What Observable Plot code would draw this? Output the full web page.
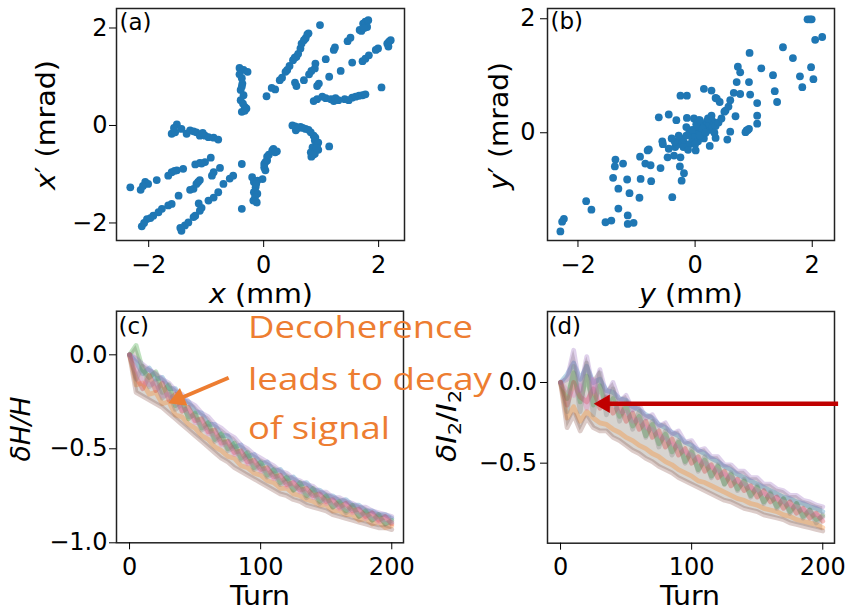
<!DOCTYPE html>
<html><head><meta charset="utf-8">
<script src="https://cdn.jsdelivr.net/npm/d3@7"></script>
<script src="https://cdn.jsdelivr.net/npm/@observablehq/plot@0.6"></script>
<style>
html,body{margin:0;padding:0;background:#fff;}
#fig{position:relative;width:846px;height:613px;overflow:hidden;background:#fff;}
.panel{position:absolute;background:#fff;}
.panel svg{display:block;overflow:visible;}
#overlay{position:absolute;left:0;top:0;pointer-events:none;}
</style>
</head><body>
<div id="fig">
  <div class="panel" id="pa" style="left:0;top:0;width:420px;height:310px"></div>
  <div class="panel" id="pb" style="left:420px;top:0;width:426px;height:310px"></div>
  <div class="panel" id="pc" style="left:0;top:308px;width:420px;height:305px"></div>
  <div class="panel" id="pd" style="left:420px;top:308px;width:426px;height:305px"></div>
</div>
<script>
// ---------- data: panel (a) x, x' ----------
const ax = [0.05,0.14,0.20,0.28,0.32,0.38,0.41,0.45,0.51,0.54,0.57,0.60,0.64,0.66,0.70,0.73,0.76,0.78,
  0.98,
  0.545,0.57,0.70,0.79,0.83,0.90,0.89,1.08,1.22,1.24,1.46,1.51,1.67,1.70,1.73,1.77,1.82,1.80,1.75,
  0.93,0.96,1.14,1.34,1.54,1.72,1.77,1.83,1.95,1.99,2.15,2.18,2.21,2.17,
  2.05,
  0.87,0.93,1.02,1.08,1.17,1.22,1.25,1.41,1.54,1.60,1.66,1.72,1.77,1.30,1.48,
  -0.42,-0.35,-0.28,-0.38,-0.37,-0.40,-0.35,-0.40,-0.33,-0.38,-0.30,-0.42,-0.36,-0.33,-0.38,
  -1.51,-1.60,-1.54,-1.43,-1.34,-1.28,-1.17,-1.11,-1.02,-0.96,-0.87,-0.79,-1.56,-1.22,-1.06,
  -2.32,-2.14,-2.06,-2.01,-1.86,-1.66,-1.60,-1.51,-1.40,-1.19,-1.11,-1.02,-0.92,-2.10,-1.55,-1.08,
  -2.12,-2.03,-1.92,-1.83,-1.77,-1.66,-1.60,-1.48,-1.22,-1.17,-1.11,-0.90,-0.87,-0.76,-2.08,-1.97,-1.28,-1.14,
  -1.43,-1.37,-1.31,-1.22,-1.19,-1.11,-1.08,-0.96,-0.87,-0.79,-0.70,-0.59,-0.53,-0.38,-1.45,-1.13,
  -0.38,
  -0.20,-0.17,-0.11,-0.14,-0.17,-0.11,-0.18,-0.12,-0.02,-0.15,-0.13,
  0.03,0.01,0.06,0.06,0.09,0.17,0.23,0.03,0.01,0.15,0.20,
  0.50,0.56,0.64,0.73,0.82,0.87,0.89,0.93,0.85,0.82,0.89,0.83,1.14,0.55,0.60,0.68,0.78,0.90,0.95,0.95,0.86,0.92];
const axp = [0.60,0.77,0.74,0.93,0.98,1.10,1.14,1.22,1.34,1.39,1.41,1.47,1.58,1.68,1.75,1.79,1.87,1.89,
  2.06,
  0.88,0.81,0.93,1.05,1.12,1.27,1.17,1.36,1.55,1.60,1.73,1.80,1.96,1.94,2.09,2.13,2.16,2.02,2.00,
  0.81,0.86,1.00,1.12,1.29,1.32,1.37,1.44,1.55,1.58,1.68,1.72,1.75,1.62,
  0.78,
  0.50,0.54,0.59,0.56,0.54,0.50,0.56,0.54,0.57,0.59,0.61,0.62,0.64,0.52,0.52,
  1.18,1.14,1.10,0.97,0.86,0.73,0.62,0.52,0.38,0.28,0.35,1.05,0.45,0.30,0.80,
  0.02,-0.17,-0.14,-0.07,-0.17,-0.10,-0.14,-0.21,-0.21,-0.24,-0.25,-0.29,-0.05,-0.12,-0.15,
  -1.27,-1.32,-1.16,-1.20,-1.12,-1.03,-0.96,-0.92,-0.89,-0.80,-0.77,-0.75,-0.66,-1.24,-0.93,-0.78,
  -2.07,-1.92,-1.85,-1.78,-1.71,-1.64,-1.61,-1.44,-1.30,-1.20,-1.12,-1.03,-0.96,-0.87,-2.00,-1.90,-1.32,-1.16,
  -2.16,-2.05,-1.99,-1.88,-1.85,-1.75,-1.69,-1.54,-1.48,-1.37,-1.20,-1.09,-1.03,-0.79,-2.10,-1.60,
  -1.71,
  -1.06,-1.16,-1.13,-1.27,-1.37,-1.40,-1.54,-1.58,-1.10,-1.47,-1.20,
  -0.92,-0.79,-0.72,-0.64,-0.60,-0.48,-0.53,-0.75,-0.86,-0.51,-0.55,
  0.00,-0.10,-0.03,-0.07,-0.14,-0.21,-0.31,-0.41,-0.45,-0.55,-0.58,-0.64,-0.43,-0.02,-0.05,-0.05,-0.09,-0.25,-0.35,-0.50,-0.60,-0.46];

// ---------- data: panel (b) y, y' ----------
const by = [1.92,1.96,1.99,2.05,2.17,1.50,0.93,1.67,0.73,0.77,1.13,1.98,1.33,1.79,2.02,0.71,0.92,1.83,1.36,0.15,0.28,-0.25,-0.14,0.66,0.77,0.94,0.35,0.42,1.40,1.06,0.60,0.52,0.69,1.06,1.06,0.88,0.92,0.60,0.55,0.35,0.25,-0.62,-0.45,-0.32,-0.14,-0.02,0.06,0.37,0.57,0.50,0.86,0.90,0.01,
  -0.56,-0.55,-0.45,-0.47,-0.34,-0.22,-0.79,-0.94,-0.85,-0.76,-0.59,-1.36,-1.37,-1.23,-1.40,-1.16,-0.93,-0.75,-1.31,-1.12,-0.95,-0.39,-0.26,-0.19,-0.23,-1.86,-1.77,-1.53,-1.43,-1.15,-1.15,-1.05,-2.24,-2.27,-2.30,-1.31,-0.81,-0.36,-0.27,-0.25,
  -0.25,-0.20,-0.15,-0.10,-0.10,-0.05,0.00,0.00,0.05,0.05,0.10,0.10,0.15,0.15,0.20,0.20,0.25,0.25,0.30,0.30,0.35,0.40,-0.30,-0.35,-0.20,-0.12,0.00,0.08,0.12,0.18,-0.05,0.02,0.22,0.28,-0.28,-0.40,0.45,0.33,0.08,-0.15];
const byp = [1.99,1.99,1.99,1.63,1.68,1.50,1.40,1.31,1.16,1.06,1.13,1.15,1.01,0.99,0.94,0.89,0.89,0.80,0.73,0.77,0.74,0.65,0.65,0.70,0.68,0.67,0.61,0.54,0.54,0.52,0.57,0.39,0.29,0.30,0.16,0.04,0.07,0.02,-0.12,-0.09,-0.23,0.27,0.32,0.22,0.26,0.25,0.22,0.60,0.46,0.37,0.01,0.05,-0.31,
  -0.15,-0.20,-0.28,-0.43,-0.25,-0.13,-0.29,-0.42,-0.54,-0.57,-0.62,-0.47,-0.59,-0.54,-0.79,-0.82,-0.81,-0.85,-0.98,-1.06,-1.14,-1.13,-0.59,-0.71,-0.84,-1.20,-1.35,-1.57,-1.54,-1.45,-1.60,-1.58,-1.51,-1.56,-1.73,-1.33,-0.31,-0.40,-0.19,-0.43,
  -0.10,-0.15,-0.05,-0.20,0.00,-0.10,-0.05,0.05,-0.15,0.10,0.00,0.15,0.05,-0.10,0.10,0.20,0.05,0.15,0.20,0.10,0.12,0.18,-0.20,-0.15,-0.25,-0.30,-0.20,-0.05,0.08,0.00,0.05,0.15,0.25,0.30,-0.05,-0.10,0.25,0.00,0.22,0.10];

// ---------- data: panels (c) and (d), sampled every 5 turns ----------
const turns = [0,5,10,15,20,25,30,35,40,45,50,55,60,65,70,75,80,85,90,95,100,105,110,115,120,125,130,135,140,145,150,155,160,165,170,175,180,185,190,195,200];
const dH1 = [0,-0.04,-0.10,-0.07,-0.13,-0.12,-0.18,-0.18,-0.24,-0.25,-0.30,-0.31,-0.37,-0.37,-0.43,-0.43,-0.49,-0.48,-0.54,-0.53,-0.58,-0.57,-0.62,-0.61,-0.66,-0.65,-0.69,-0.68,-0.72,-0.72,-0.75,-0.75,-0.78,-0.77,-0.80,-0.80,-0.83,-0.83,-0.85,-0.85,-0.87];
const dH2 = [0,-0.16,-0.15,-0.21,-0.20,-0.26,-0.25,-0.32,-0.33,-0.37,-0.39,-0.43,-0.45,-0.49,-0.51,-0.54,-0.55,-0.59,-0.60,-0.63,-0.64,-0.67,-0.68,-0.71,-0.71,-0.74,-0.75,-0.77,-0.78,-0.80,-0.80,-0.83,-0.83,-0.85,-0.85,-0.88,-0.87,-0.90,-0.89,-0.92,-0.91];
const dH3 = [0,0.05,-0.08,-0.12,-0.09,-0.20,-0.16,-0.27,-0.24,-0.34,-0.31,-0.39,-0.36,-0.45,-0.42,-0.50,-0.47,-0.55,-0.52,-0.60,-0.57,-0.64,-0.61,-0.68,-0.65,-0.72,-0.68,-0.75,-0.71,-0.78,-0.75,-0.81,-0.78,-0.83,-0.80,-0.86,-0.83,-0.88,-0.85,-0.90,-0.88];
const dH4 = [0,-0.12,-0.18,-0.11,-0.19,-0.15,-0.24,-0.21,-0.30,-0.28,-0.35,-0.34,-0.41,-0.40,-0.47,-0.46,-0.52,-0.51,-0.57,-0.56,-0.61,-0.60,-0.65,-0.64,-0.69,-0.68,-0.72,-0.71,-0.75,-0.74,-0.78,-0.77,-0.81,-0.79,-0.83,-0.82,-0.86,-0.84,-0.88,-0.86,-0.90];
const dH5 = [0,-0.02,-0.05,-0.08,-0.10,-0.13,-0.15,-0.19,-0.21,-0.25,-0.27,-0.31,-0.33,-0.37,-0.39,-0.42,-0.44,-0.48,-0.50,-0.53,-0.55,-0.57,-0.59,-0.62,-0.63,-0.66,-0.67,-0.69,-0.70,-0.73,-0.73,-0.76,-0.76,-0.78,-0.79,-0.81,-0.81,-0.83,-0.84,-0.85,-0.86];
const dH6 = [0,-0.20,-0.22,-0.24,-0.26,-0.28,-0.31,-0.34,-0.37,-0.40,-0.43,-0.46,-0.49,-0.52,-0.55,-0.57,-0.60,-0.62,-0.64,-0.66,-0.68,-0.70,-0.72,-0.74,-0.75,-0.77,-0.78,-0.80,-0.81,-0.82,-0.83,-0.85,-0.86,-0.87,-0.88,-0.89,-0.90,-0.91,-0.92,-0.92,-0.93];
const dH7 = [0,-0.08,-0.14,-0.16,-0.15,-0.22,-0.21,-0.25,-0.29,-0.30,-0.36,-0.36,-0.42,-0.42,-0.48,-0.47,-0.53,-0.52,-0.58,-0.57,-0.62,-0.61,-0.66,-0.65,-0.70,-0.68,-0.73,-0.72,-0.76,-0.75,-0.79,-0.78,-0.82,-0.80,-0.84,-0.83,-0.87,-0.85,-0.89,-0.87,-0.89];
const dH8 = [0,-0.13,-0.06,-0.17,-0.14,-0.23,-0.20,-0.29,-0.26,-0.33,-0.32,-0.40,-0.38,-0.46,-0.44,-0.51,-0.49,-0.56,-0.54,-0.61,-0.59,-0.65,-0.63,-0.69,-0.67,-0.72,-0.70,-0.76,-0.73,-0.79,-0.76,-0.81,-0.79,-0.84,-0.81,-0.86,-0.84,-0.88,-0.86,-0.90,-0.89];
const dI1 = [0,0.05,0.12,0.02,0.10,0.00,0.02,-0.05,-0.06,-0.10,-0.11,-0.15,-0.17,-0.20,-0.22,-0.26,-0.28,-0.31,-0.33,-0.37,-0.39,-0.42,-0.44,-0.47,-0.49,-0.52,-0.54,-0.57,-0.59,-0.61,-0.63,-0.65,-0.67,-0.69,-0.71,-0.72,-0.74,-0.75,-0.77,-0.78,-0.80];
const dI2 = [0,-0.22,-0.15,-0.24,-0.18,-0.22,-0.25,-0.26,-0.29,-0.31,-0.34,-0.36,-0.39,-0.41,-0.44,-0.46,-0.49,-0.51,-0.54,-0.56,-0.58,-0.61,-0.62,-0.64,-0.66,-0.68,-0.70,-0.72,-0.73,-0.75,-0.76,-0.78,-0.79,-0.80,-0.82,-0.83,-0.85,-0.86,-0.87,-0.88,-0.90];
const dI3 = [0,-0.10,0.06,-0.12,0.04,-0.14,-0.02,-0.16,-0.10,-0.21,-0.15,-0.27,-0.21,-0.33,-0.26,-0.38,-0.32,-0.43,-0.37,-0.49,-0.43,-0.54,-0.48,-0.58,-0.52,-0.63,-0.57,-0.66,-0.61,-0.70,-0.65,-0.74,-0.69,-0.77,-0.72,-0.80,-0.75,-0.83,-0.79,-0.85,-0.83];
const dI4 = [0,-0.14,0.00,-0.09,-0.12,-0.04,-0.16,-0.09,-0.19,-0.14,-0.24,-0.19,-0.29,-0.24,-0.34,-0.30,-0.40,-0.35,-0.45,-0.41,-0.50,-0.46,-0.55,-0.51,-0.59,-0.55,-0.64,-0.60,-0.67,-0.64,-0.71,-0.67,-0.74,-0.71,-0.78,-0.74,-0.81,-0.78,-0.84,-0.81,-0.86];
const dI5 = [0,0.02,0.20,-0.05,0.16,-0.06,0.08,-0.08,0.00,-0.12,-0.08,-0.17,-0.14,-0.22,-0.20,-0.27,-0.25,-0.32,-0.30,-0.37,-0.36,-0.42,-0.41,-0.46,-0.46,-0.51,-0.51,-0.55,-0.55,-0.59,-0.59,-0.63,-0.63,-0.66,-0.67,-0.70,-0.70,-0.73,-0.74,-0.76,-0.77];
const dI6 = [0,-0.28,-0.20,-0.30,-0.22,-0.28,-0.30,-0.30,-0.34,-0.36,-0.39,-0.42,-0.44,-0.47,-0.49,-0.52,-0.54,-0.56,-0.59,-0.61,-0.63,-0.65,-0.67,-0.69,-0.71,-0.73,-0.74,-0.76,-0.78,-0.79,-0.80,-0.82,-0.83,-0.84,-0.85,-0.87,-0.88,-0.89,-0.90,-0.91,-0.92];
const dI7 = [0,-0.05,-0.08,-0.02,-0.16,0.02,-0.12,-0.12,-0.13,-0.18,-0.18,-0.24,-0.23,-0.28,-0.29,-0.33,-0.35,-0.38,-0.40,-0.43,-0.45,-0.48,-0.50,-0.52,-0.55,-0.57,-0.59,-0.61,-0.63,-0.65,-0.67,-0.69,-0.70,-0.72,-0.74,-0.76,-0.77,-0.79,-0.80,-0.82,-0.84];
const dI8 = [0,-0.18,0.10,-0.18,0.12,-0.20,0.06,-0.20,-0.04,-0.24,-0.12,-0.29,-0.18,-0.34,-0.24,-0.40,-0.30,-0.45,-0.36,-0.50,-0.41,-0.55,-0.46,-0.59,-0.51,-0.63,-0.56,-0.67,-0.60,-0.71,-0.64,-0.75,-0.68,-0.78,-0.72,-0.81,-0.75,-0.84,-0.79,-0.87,-0.82];

// ---------- tick labels ----------
const ticksXY = [-2, 0, 2];
const ticksBY = [0, 2];
const ticksTurn = [0, 100, 200];
const ticksC = [0, -0.5, -1.0];
const ticksD = [0, -0.5];
const panelLabels = ["(a)", "(b)", "(c)", "(d)"];

// ---------- annotations (data units of their panels) ----------
const noteLines = ["Decoherence", "leads to decay", "of signal"];
const orangeShaft = [{x1: 75.6, y1: -0.122, x2: 37.4, y2: -0.235}];
const orangeHead = [{x: 37.4, y: -0.235}];
const redShaft = [{x1: 211.7, y1: -0.132, x2: 33.5, y2: -0.132}];
const redHead = [{x: 33.5, y: -0.132}];

// ---------- styling ----------
const BLUE = "#1f77b4";
const TAB = ["#1f77b4","#ff7f0e","#2ca02c","#d62728","#9467bd","#8c564b","#e377c2","#7f7f7f"];
const ORANGE = "#ED7D31", RED = "#C00000";
const FONT = "DejaVu Sans";
const baseStyle = {fontFamily: FONT, fontSize: "24px", color: "black", background: "white", overflow: "visible"};
const fmtInt = d3.format("d"), fmt1 = d3.format(".1f");

function frame() { return Plot.frame({stroke: "#222", strokeWidth: 1.5}); }
function tag(s, dx, dy) {
  return Plot.text([s], {text: d => d, frameAnchor: "top-left", dx, dy, lineAnchor: "top", textAnchor: "start", fontSize: 23, fill: "black"});
}

// Panel (a)
const ptsA = ax.map((v, i) => ({x: v, y: axp[i]}));
const plotA = Plot.plot({
  width: 420, height: 310, marginLeft: 116, marginRight: 16, marginTop: 8, marginBottom: 70,
  style: baseStyle,
  x: {domain: [-2.56, 2.45]}, y: {domain: [-2.36, 2.40]},
  marks: [
    Plot.dot(ptsA, {x: "x", y: "y", r: 3.9, fill: BLUE}),
    frame(),
    Plot.axisX({ticks: ticksXY, tickSize: 7, tickPadding: 8, fontSize: 24, tickFormat: fmtInt, label: null}),
    Plot.axisY({ticks: ticksXY, tickSize: 7, tickPadding: 2, fontSize: 24, tickFormat: fmtInt, label: null}),
    tag(panelLabels[0], 3, 5)
  ]
});

// Panel (b)
const ptsB = by.map((v, i) => ({x: v, y: byp[i]}));
const plotB = Plot.plot({
  width: 426, height: 310, marginLeft: 127, marginRight: 12, marginTop: 8, marginBottom: 70,
  style: baseStyle,
  x: {domain: [-2.52, 2.38]}, y: {domain: [-1.89, 2.18]},
  marks: [
    Plot.dot(ptsB, {x: "x", y: "y", r: 3.9, fill: BLUE}),
    frame(),
    Plot.axisX({ticks: ticksXY, tickSize: 7, tickPadding: 8, fontSize: 24, tickFormat: fmtInt, label: null}),
    Plot.axisY({ticks: ticksBY, tickSize: 7, tickPadding: 5, fontSize: 24, tickFormat: fmtInt, label: null}),
    tag(panelLabels[1], 3, 4)
  ]
});

// band of many decohering particles: envelope of the read series + the series themselves
function bandMarks(seriesList, fillColor) {
  const env = turns.map((t, i) => ({
    t,
    lo: d3.min(seriesList, s => s[i]),
    hi: d3.max(seriesList, s => s[i])
  }));
  return [
    Plot.areaY(env, {x: "t", y1: "lo", y2: "hi", fill: fillColor, fillOpacity: 0.3}),
    ...seriesList.map((vals, k) => Plot.line(turns, {
      x: d => d, y: (d, i) => vals[i], stroke: TAB[k % TAB.length],
      strokeOpacity: 0.3, strokeWidth: 4.8, strokeLinejoin: "round"
    }))
  ];
}

// Panel (c)
const plotC = Plot.plot({
  width: 420, height: 305, marginLeft: 116, marginRight: 17, marginTop: 2.7, marginBottom: 70.7,
  style: baseStyle,
  x: {domain: [-9.95, 208.95]}, y: {domain: [-1.0, 0.232]},
  marks: [
    ...bandMarks([dH1, dH2, dH3, dH4, dH5, dH6, dH7, dH8], "#7f7466"),
    frame(),
    Plot.axisX({ticks: ticksTurn, tickSize: 7, tickPadding: 8, fontSize: 24, tickFormat: fmtInt, label: null}),
    Plot.axisY({ticks: ticksC, tickSize: 7, tickPadding: 2, fontSize: 24, tickFormat: fmt1, label: null}),
    tag(panelLabels[2], 2, 6),
    Plot.link(orangeShaft, {x1: "x1", y1: "y1", x2: "x2", y2: "y2", stroke: ORANGE, strokeWidth: 4}),
    Plot.dot(orangeHead, {x: "x", y: "y", symbol: "triangle", r: 7.2, fill: ORANGE, stroke: "none", rotate: -113})
  ]
});

// Panel (d)
const plotD = Plot.plot({
  width: 426, height: 305, marginLeft: 127, marginRight: 12, marginTop: 3, marginBottom: 70.3,
  style: baseStyle,
  x: {domain: [-9.95, 208.95]}, y: {domain: [-0.996, 0.44]},
  marks: [
    ...bandMarks([dI1, dI2, dI3, dI4, dI5, dI6, dI7, dI8], "#7a7064"),
    frame(),
    Plot.axisX({ticks: ticksTurn, tickSize: 7, tickPadding: 7.5, fontSize: 24, tickFormat: fmtInt, label: null}),
    Plot.axisY({ticks: ticksD, tickSize: 7, tickPadding: 3.5, fontSize: 24, tickFormat: fmt1, label: null}),
    tag(panelLabels[3], 1, 6),
    Plot.link(redShaft, {x1: "x1", y1: "y1", x2: "x2", y2: "y2", stroke: RED, strokeWidth: 4.5}),
    Plot.dot(redHead, {x: "x", y: "y", symbol: "triangle", r: 6.9, fill: RED, stroke: "none", rotate: -90})
  ]
});

document.getElementById("pa").appendChild(plotA);
document.getElementById("pb").appendChild(plotB);
document.getElementById("pc").appendChild(plotC);
document.getElementById("pd").appendChild(plotD);

// ---------- axis titles (mixed italic / upright) ----------
function xTitle(svg, cx, baseline, parts, len) {
  const t = d3.select(svg).append("text")
    .attr("x", cx).attr("y", baseline).attr("text-anchor", "middle")
    .attr("font-family", FONT).attr("font-size", 26).attr("fill", "black");
  if (len) t.attr("textLength", len).attr("lengthAdjust", "spacingAndGlyphs");
  parts.forEach(p => {
    const s = t.append("tspan").text(p.t);
    if (p.i) s.attr("font-style", "italic");
    if (p.fs) s.attr("font-size", p.fs);
    if (p.dy) s.attr("dy", p.dy);
  });
  return t;
}
function yTitle(svg, bx, cy, parts, len) {
  const t = xTitle(svg, 0, 0, parts, len);
  t.attr("transform", `translate(${bx},${cy}) rotate(-90)`);
}
xTitle(plotA, 261, 303, [{t: "x", i: true}, {t: " (mm)"}], 104);
yTitle(plotA, 55, 125, [{t: "x", i: true}, {t: "′ (mrad)"}], 130);
xTitle(plotB, 271, 303, [{t: "y", i: true}, {t: " (mm)"}], 104);
yTitle(plotB, 88, 126, [{t: "y", i: true}, {t: "′ (mrad)"}], 128);
xTitle(plotC, 260, 297, [{t: "Turn"}], 60);
yTitle(plotC, 30, 121, [{t: "δH/H", i: true}], 65);
xTitle(plotD, 270, 297, [{t: "Turn"}], 60);
yTitle(plotD, 36, 118, [{t: "δI", i: true}, {t: "2", fs: 18, dy: 5}, {t: "/", dy: -5}, {t: "I", i: true}, {t: "2", fs: 18, dy: 5}], 72);

// ---------- orange annotation text ----------
const ov = d3.select("#fig").append("svg").attr("id", "overlay").attr("width", 846).attr("height", 613);
const noteBase = [338, 390, 439], noteLen = [225, 244, 142];
noteLines.forEach((s, i) => {
  ov.append("text").attr("x", 248).attr("y", noteBase[i])
    .attr("font-family", "Open Sans").attr("font-size", 31).attr("fill", ORANGE)
    .attr("textLength", noteLen[i]).attr("lengthAdjust", "spacingAndGlyphs")
    .text(s);
});
</script>
</body></html>
